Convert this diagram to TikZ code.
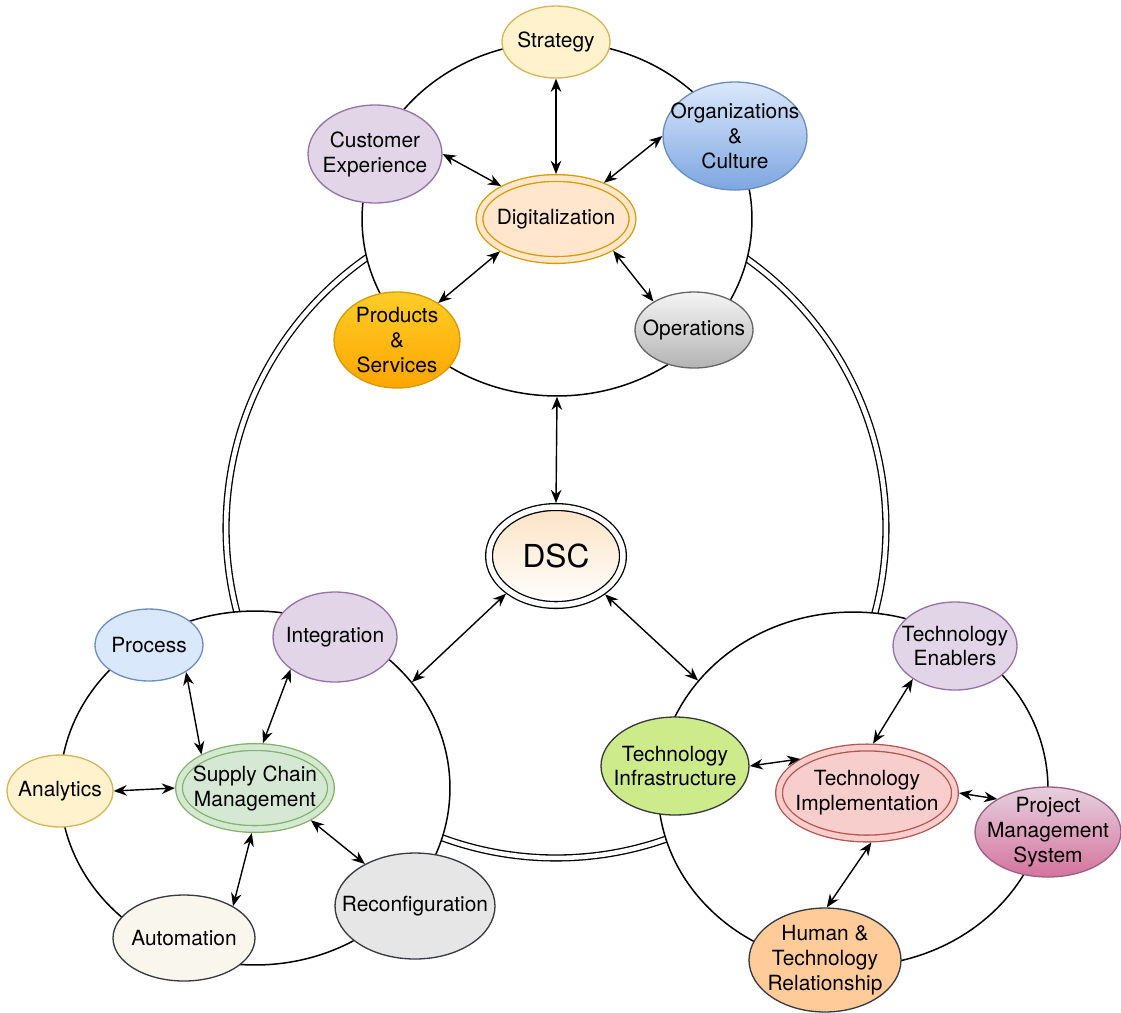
\documentclass[tikz,border=0pt]{standalone}
\usepackage{fontspec}
\setmainfont{TeX Gyre Heros}
\usepackage{xcolor}
\usepackage{tikz}
\usetikzlibrary{shapes.geometric,arrows.meta}

\definecolor{yelfill}{HTML}{FFF2CC}
\definecolor{yeldraw}{HTML}{D6B656}
\definecolor{purfill}{HTML}{E1D5E7}
\definecolor{purdraw}{HTML}{9673A6}
\definecolor{blufill}{HTML}{DAE8FC}
\definecolor{bludark}{HTML}{7EA6E0}
\definecolor{bludraw}{HTML}{6C8EBF}
\definecolor{orafill}{HTML}{FFE6CC}
\definecolor{oradraw}{HTML}{D79B00}
\definecolor{goldtop}{HTML}{FFCD28}
\definecolor{goldbot}{HTML}{FFA500}
\definecolor{greytop}{HTML}{F5F5F5}
\definecolor{greybot}{HTML}{B3B3B3}
\definecolor{greydraw}{HTML}{666666}
\definecolor{grnfill}{HTML}{D5E8D4}
\definecolor{grndraw}{HTML}{82B366}
\definecolor{redfill}{HTML}{F8CECC}
\definecolor{reddraw}{HTML}{B85450}
\definecolor{pinktop}{HTML}{E6D0DE}
\definecolor{pinkbot}{HTML}{D5739D}
\definecolor{pinkdraw}{HTML}{996185}
\definecolor{limefill}{HTML}{CDEB8B}
\definecolor{peachfill}{HTML}{FFCC99}
\definecolor{creamfill}{HTML}{F9F7ED}
\definecolor{silvfill}{HTML}{E6E6E6}
\definecolor{darkdraw}{HTML}{36393D}
\definecolor{dsctop}{HTML}{FCE3C4}

\begin{document}
\begin{tikzpicture}[
        x = 0.02cm, y = -0.02cm,
        >= {Stealth[length=7.5pt, width=6pt]},
        every node/.style = {align = center},
        font = \fontsize{11.9}{14.2}\selectfont,
    ]
    \tikzstyle{ring} = [ellipse, draw=black, fill=white, line width=0.85pt, minimum width=7.8cm, minimum height=7.08cm, inner sep=0pt];
    \tikzstyle{blob} = [ellipse, line width=0.75pt, inner sep=0pt];
    \tikzstyle{twin} = [blob, double distance=3.1pt, outer sep=2.3pt];
    \tikzstyle{link} = [<->, line width=0.8pt];

    \useasboundingbox (0,0) rectangle (1121,1012);

    % outer double ring and the three rings
    \node [circle, draw, double, double distance=2.6pt, line width=0.75pt, minimum size=13.2cm, inner sep=0pt] (outer) at (556,528) {};
    \node [ring] (topring) at (557,219) {};
    \node [ring] (blring) at (255,788) {};
    \node [ring] (brring) at (853,789) {};

    % digitalization
    \node [blob, fill=yelfill, draw=yeldraw, minimum width=2.16cm, minimum height=1.44cm, label=center:Strategy] (strat) at (556,42) {};
    \node [blob, fill=purfill, draw=purdraw, minimum width=2.68cm, minimum height=1.96cm, label=center:Customer\\Experience] (custexp) at (375,154) {};
    \node [blob, top color=blufill, bottom color=bludark, draw=bludraw, minimum width=2.88cm, minimum height=2.16cm, label={center:Organizations\\\&\\Culture}] (orgcult) at (735,136) {};
    \node [twin, fill=orafill, draw=oradraw, double=orafill, minimum width=3.06cm, minimum height=1.64cm, label=center:Digitalization] (digi) at (556,219) {};
    \node [blob, top color=goldtop, bottom color=goldbot, draw=oradraw, minimum width=2.52cm, minimum height=1.92cm, label={center:Products\\\&\\Services}] (prodserv) at (397,340) {};
    \node [blob, top color=greytop, bottom color=greybot, draw=greydraw, minimum width=2.36cm, minimum height=1.52cm, label=center:Operations] (ops) at (694,330) {};

    % dsc
    \node [twin, top color=dsctop, bottom color=white, draw=black, double=white, minimum width=2.68cm, minimum height=1.96cm, label={[font=\fontsize{18}{20}\selectfont]center:DSC}] (dsc) at (556,556) {};

    % supply chain
    \node [blob, fill=blufill, draw=bludraw, minimum width=2.16cm, minimum height=1.44cm, label=center:Process] (process) at (149,645) {};
    \node [blob, fill=purfill, draw=purdraw, minimum width=2.48cm, minimum height=1.80cm, label=center:Integration] (integ) at (335,637) {};
    \node [blob, fill=yelfill, draw=yeldraw, minimum width=2.12cm, minimum height=1.44cm, label=center:Analytics] (analyt) at (60,791) {};
    \node [twin, fill=grnfill, draw=grndraw, double=grnfill, minimum width=3.04cm, minimum height=1.64cm, label=center:Supply Chain\\Management] (scm) at (255,788) {};
    \node [blob, fill=creamfill, draw=darkdraw, minimum width=2.84cm, minimum height=1.72cm, label=center:Automation] (autom) at (184,938) {};
    \node [blob, fill=silvfill, draw=darkdraw, minimum width=3.20cm, minimum height=2.12cm, label=center:Reconfiguration] (reconf) at (415,906) {};

    % technology
    \node [blob, fill=purfill, draw=purdraw, minimum width=2.48cm, minimum height=1.76cm, label=center:Technology\\Enablers] (techenab) at (955,646) {};
    \node [blob, fill=limefill, draw=darkdraw, minimum width=2.96cm, minimum height=1.96cm, label=center:Technology\\Infrastructure] (techinfra) at (675,766) {};
    \node [twin, fill=redfill, draw=reddraw, double=redfill, minimum width=3.52cm, minimum height=1.82cm, label=center:Technology\\Implementation] (techimpl) at (867,793) {};
    \node [blob, top color=pinktop, bottom color=pinkbot, draw=pinkdraw, minimum width=2.92cm, minimum height=1.80cm, label=center:Project\\Management\\System] (pms) at (1048,832) {};
    \node [blob, fill=peachfill, draw=darkdraw, minimum width=3.04cm, minimum height=2.08cm, label={center:Human \&\\Technology\\Relationship}] (humtech) at (825,960) {};

    % arrows
    \draw [link] (strat.south) -- (digi.north);
    \draw [link] (custexp.east) -- (digi.149);
    \draw [link] (orgcult.west) -- (digi.37);
    \draw [link] (prodserv.42) -- (digi.210);
    \draw [link] (ops.145) -- (digi.-29);
    \draw [link] (topring.south) -- (dsc.north);
    \draw [link] (dsc.217) -- (blring.34);
    \draw [link] (dsc.-38) -- (brring.145);
    \draw [link] (process.-36) -- (scm.148);
    \draw [link] (integ.216) -- (scm.80);
    \draw [link] (analyt.east) -- (scm.west);
    \draw [link] (scm.266) -- (autom.33);
    \draw [link] (scm.-30) -- (reconf.140);
    \draw [link] (techinfra.east) -- (techimpl.153);
    \draw [link] (techenab.218) -- (techimpl.83);
    \draw [link] (techimpl.east) -- (pms.147);
    \draw [link] (techimpl.-85) -- (humtech.88);
\end{tikzpicture}
\end{document}
